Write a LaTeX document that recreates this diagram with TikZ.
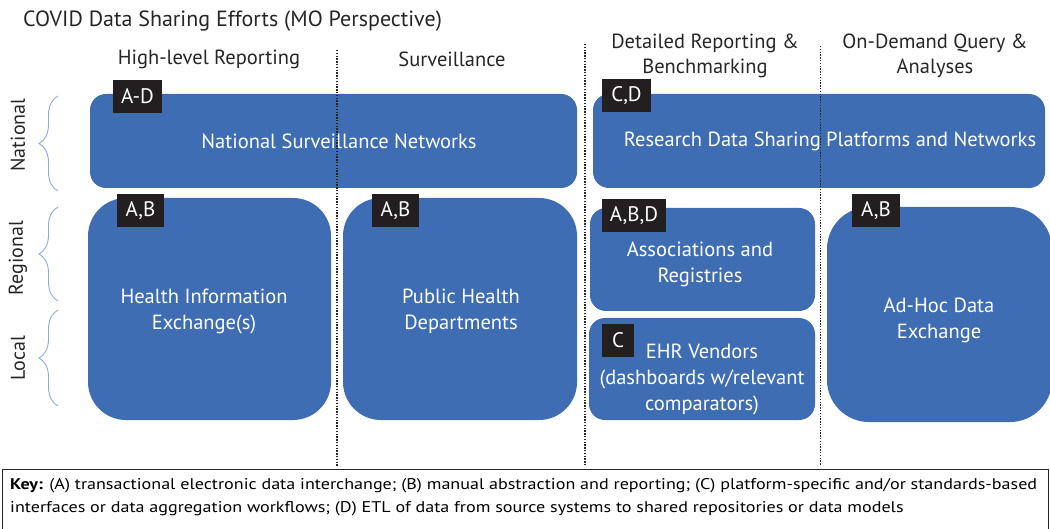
\documentclass[tikz,border=0pt]{standalone}
\usepackage{fontspec}
\setmainfont{PT Sans}
\usetikzlibrary{decorations.pathreplacing}
\definecolor{boxblue}{HTML}{3E6DB4}
\definecolor{badge}{HTML}{231F20}
\definecolor{bracec}{HTML}{8EA9DB}
\newsavebox\keylineA
\newsavebox\keylineB
\tikzset{
  blk/.style={fill=boxblue, draw=none, inner sep=0pt},
  tag/.style={fill=badge, text=white, inner sep=0pt, minimum height=33pt, font=\fontsize{21}{22}\selectfont},
  lbl/.style={text=white, align=center, font=\fontsize{20.5}{26}\selectfont},
  hdr/.style={text=black!85, align=center, font=\fontsize{20.5}{25}\selectfont},
  divline/.style={line width=1.4pt, dash pattern=on 1.4pt off 1.4pt, black!85},
  brc/.style={bracec, line width=0.9pt, decorate, decoration={brace, amplitude=19pt, mirror, aspect=0.5}},
  side/.style={rotate=90, text=black!85, font=\fontsize{20}{22}\selectfont},
  keyline/.style={anchor=base west, inner sep=0pt, text=black!90}
}
\begin{document}
\sbox\keylineA{\fontsize{15.5}{18}\selectfont\textbf{Key:} (A) transactional electronic data interchange; (B) manual abstraction and reporting; (C) platform-specific and/or standards-based}%
\sbox\keylineB{\fontsize{15.5}{18}\selectfont interfaces or data aggregation workflows; (D) ETL of data from source systems to shared repositories or data models}%
\pgfmathsetmacro\kf{1027/(\the\wd\keylineA)}%
\begin{tikzpicture}[x=1pt,y=-1pt]
\useasboundingbox (0,0) rectangle (1050,529);
% title
\node[anchor=base west, inner sep=0pt, text=black!85, font=\fontsize{22}{24}\selectfont] (title) at (23,27) {COVID Data Sharing Efforts (MO Perspective)};
% headers
\node[hdr] (h1) at (209,59) {High-level Reporting};
\node[hdr] (h2) at (452,59) {Surveillance};
\node[hdr] (h3) at (705,56) {Detailed Reporting \&\\Benchmarking};
\node[hdr] (h4) at (935,56) {On-Demand Query \&\\Analyses};
% boxes
\draw[blk, rounded corners=16pt] (90,94) rectangle (577,188);
\draw[blk, rounded corners=16pt] (593,94) rectangle (1045,188);
\draw[blk, rounded corners=38pt] (88,198) rectangle (331,420);
\draw[blk, rounded corners=38pt] (343,198) rectangle (577,420);
\draw[blk, rounded corners=16pt] (590,208) rectangle (815,311);
\draw[blk, rounded corners=16pt] (589,318) rectangle (815,420);
\draw[blk, rounded corners=42pt] (827,207) rectangle (1052,422);
% box labels
\node[lbl] (nsn) at (339,141) {National Surveillance Networks};
\node[lbl] (rds) at (830,141) {Research Data Sharing Platforms and Networks};
\node[lbl] (hie) at (204,311) {Health Information\\Exchange(s)};
\node[lbl] (phd) at (461,311) {Public Health\\Departments};
\node[lbl] (asr) at (700,264) {Associations and\\Registries};
\node[lbl] (ehr) at (702,379.5) {EHR Vendors\\(dashboards w/relevant\\comparators)};
\node[lbl] (adh) at (939,320) {Ad-Hoc Data\\Exchange};
% badges
\node[tag, minimum width=49pt] (t1) at (137.5,96.5) {A-D};
\node[tag, minimum width=49pt] (t2) at (626.5,96) {C,D};
\node[tag, minimum width=47pt] (t3) at (140.5,211) {A,B};
\node[tag, minimum width=47pt] (t4) at (395.5,211) {A,B};
\node[tag, minimum width=64pt] (t5) at (634,216) {A,B,D};
\node[tag, minimum width=32pt] (t6) at (618,340.5) {C};
\node[tag, minimum width=48pt] (t7) at (876,211) {A,B};
% dividers
\coordinate (d1t) at (337,50); \coordinate (d1b) at (337,466);
\coordinate (d2t) at (585,44); \coordinate (d2b) at (585,466);
\coordinate (d3t) at (820.5,46); \coordinate (d3b) at (820.5,466);
\draw[divline] (d1t) -- (d1b);
\draw[divline] (d2t) -- (d2b);
\draw[divline] (d3t) -- (d3b);
% braces
\coordinate (b1t) at (58,96); \coordinate (b1b) at (58,191);
\coordinate (b2t) at (58,207); \coordinate (b2b) at (58,301);
\coordinate (b3t) at (58,310); \coordinate (b3b) at (58,406);
\draw[brc] (b1t) -- (b1b);
\draw[brc] (b2t) -- (b2b);
\draw[brc] (b3t) -- (b3b);
\node[side] (nat) at (18,135) {National};
\node[side] (reg) at (18,258) {Regional};
\node[side] (loc) at (18,358) {Local};
% key
\node[draw=black!85, line width=1.2pt, anchor=north west, inner sep=0pt, minimum width=1046pt, minimum height=60pt] (keybox) at (2,468.5) {};
\node[keyline] (key1) at (10,489) {\scalebox{\kf}[1]{\usebox\keylineA}};
\node[keyline] (key2) at (10,512) {\scalebox{\kf}[1]{\usebox\keylineB}};
\end{tikzpicture}
\end{document}
